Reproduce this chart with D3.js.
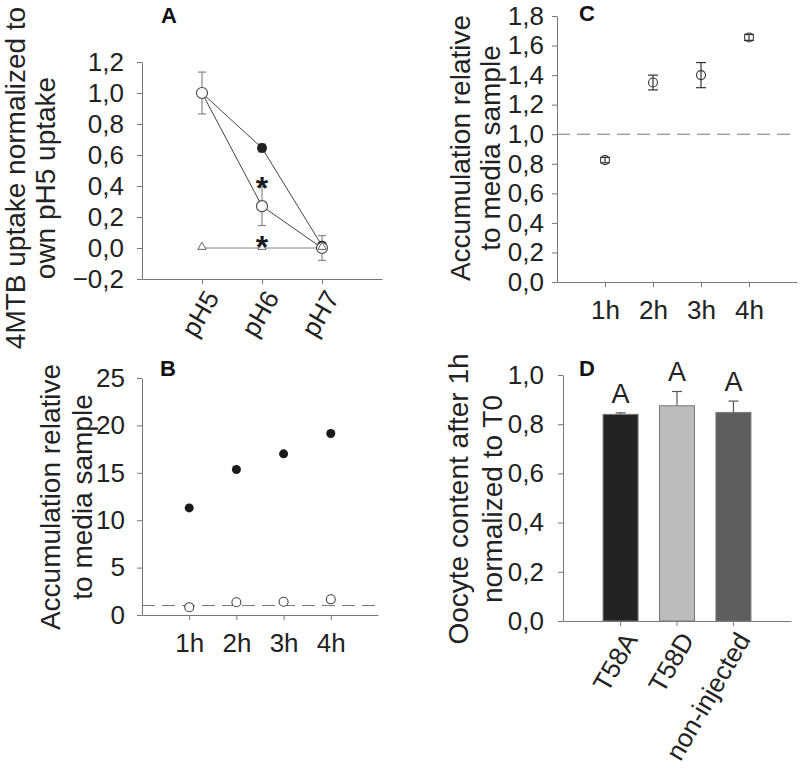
<!DOCTYPE html>
<html><head><meta charset="utf-8">
<script src="https://cdn.jsdelivr.net/npm/d3@7"></script>
<style>
body{margin:0;background:#fff;}
svg{font-family:"Liberation Sans",Arial,sans-serif;}
</style></head>
<body><svg id="c" width="800" height="776"></svg>
<script>
// ---------- DATA ----------
const phCats = ["pH5", "pH6", "pH7"];
const aOpen = [1.0, 0.27, 0.0];
const aOpenErr = [0.135, 0.125, 0.08];
const aFilled = [1.0, 0.645, 0.015];
const aFilledErr = [0.0, 0.025, 0.02];
const aTriangle = [0.0, 0.0, 0.0];
const aStars = [{cat: "pH6", v: 0.44}, {cat: "pH6", v: 0.06}];
const aTicks = [-0.2, 0, 0.2, 0.4, 0.6, 0.8, 1.0, 1.2];

const hours = ["1h", "2h", "3h", "4h"];
const bFilled = [11.3, 15.35, 17.0, 19.15];
const bFilledErr = [0.15, 0.15, 0.15, 0.15];
const openAcc = [0.825, 1.35, 1.40, 1.655];
const openAccErr = [0.018, 0.05, 0.085, 0.02];
const bTicks = [0, 5, 10, 15, 20, 25];
const cTicks = [0, 0.2, 0.4, 0.6, 0.8, 1.0, 1.2, 1.4, 1.6, 1.8];
const refLine = 1.0;

const dCats = ["T58A", "T58D", "non-injected"];
const dValues = [0.84, 0.875, 0.848];
const dErr = [0.006, 0.058, 0.046];
const dLetters = ["A", "A", "A"];
const dColors = ["#232323", "#bcbcbc", "#5e5e5e"];
const dTicks = [0, 0.2, 0.4, 0.6, 0.8, 1.0];

// ---------- HELPERS ----------
const svg = d3.select("#c");
const fmt = d => d3.format(".1f")(d).replace(".", ",");
const AX = "#777", TXT = "#222", FONT = "26px", TITLE = "28px";

function styleAxis(g){
  g.select(".domain").attr("stroke", AX);
  g.selectAll(".tick line").attr("stroke", AX);
  g.selectAll(".tick text").attr("fill", TXT).style("font-size", FONT);
}
function yTitle(lines, xs, cy){
  lines.forEach((t,i)=>{
    svg.append("text").attr("transform",`translate(${xs[i]},${cy}) rotate(-90)`)
      .attr("text-anchor","middle").attr("fill",TXT).style("font-size",TITLE).text(t);
  });
}
function panelLetter(t,x,y){
  svg.append("text").attr("x",x).attr("y",y).attr("fill","#111")
    .style("font-size","22px").style("font-weight","bold").text(t);
}
function errBar(g, x, y0, y1, cap, color){
  g.append("line").attr("x1",x).attr("x2",x).attr("y1",y0).attr("y2",y1).attr("stroke",color).attr("stroke-width",1.2);
  [y0,y1].forEach(yy=>g.append("line").attr("x1",x-cap).attr("x2",x+cap).attr("y1",yy).attr("y2",yy).attr("stroke",color).attr("stroke-width",1.2));
}

// ---------- PANEL A ----------
{
  const x = d3.scalePoint().domain(phCats).range([142,382]).padding(1);
  const y = d3.scaleLinear().domain([-0.2,1.2]).range([279,62]);
  const g = svg.append("g");
  g.append("g").attr("transform","translate(0,279)")
    .call(d3.axisBottom(x).tickSize(5).tickSizeOuter(0).tickFormat(""))
    .call(styleAxis);
  phCats.forEach(c=>{
    svg.append("text").attr("transform",`translate(${x(c)+10},${279+14}) rotate(-60)`)
      .attr("text-anchor","end").attr("dy","0.35em").attr("fill",TXT).style("font-size",FONT).text(c);
  });
  g.append("g").attr("transform","translate(142,0)")
    .call(d3.axisLeft(y).tickValues(aTicks).tickFormat(fmt).tickSize(5).tickPadding(13).tickSizeOuter(0))
    .call(styleAxis);
  const line = d3.line().x((d,i)=>x(phCats[i])).y(d=>y(d));
  g.append("path").datum(aTriangle).attr("d",line).attr("fill","none").attr("stroke","#888").attr("stroke-width",1);
  g.append("path").datum(aFilled).attr("d",line).attr("fill","none").attr("stroke","#444").attr("stroke-width",1);
  g.append("path").datum(aOpen).attr("d",line).attr("fill","none").attr("stroke","#444").attr("stroke-width",1);
  aOpen.forEach((v,i)=>errBar(g,x(phCats[i]),y(v-aOpenErr[i]),y(v+aOpenErr[i]),4,"#888"));
  aFilled.forEach((v,i)=>{ if(aFilledErr[i]>0) errBar(g,x(phCats[i]),y(v-aFilledErr[i]),y(v+aFilledErr[i]),4,"#666"); });
  aFilled.forEach((v,i)=>g.append("circle").attr("cx",x(phCats[i])).attr("cy",y(v)).attr("r",5).attr("fill","#222"));
  aOpen.forEach((v,i)=>g.append("circle").attr("cx",x(phCats[i])).attr("cy",y(v)).attr("r",5.5).attr("fill","#fff").attr("stroke","#444").attr("stroke-width",1.1));
  const tri = d3.symbol().type(d3.symbolTriangle).size(30);
  aTriangle.forEach((v,i)=>g.append("path").attr("d",tri()).attr("transform",`translate(${x(phCats[i])},${y(v)-1})`).attr("fill","#fff").attr("stroke","#666").attr("stroke-width",1));
  aStars.forEach(s=>g.append("text").attr("x",x(s.cat)).attr("y",y(s.v)).attr("dy","0.6em")
     .attr("text-anchor","middle").attr("fill","#1a1a1a").style("font-size","32px").style("font-weight","bold").text("*"));
  yTitle(["4MTB uptake normalized to","own pH5 uptake"],[25,55],178);
  panelLetter("A",161,23);
}

// ---------- PANEL B ----------
{
  const x = d3.scalePoint().domain(hours).range([142,378]).padding(1);
  const y = d3.scaleLinear().domain([0,25]).range([615,378]);
  const g = svg.append("g");
  g.append("g").attr("transform","translate(0,615)")
    .call(d3.axisBottom(x).tickSize(5).tickPadding(14).tickSizeOuter(0)).call(styleAxis);
  g.append("g").attr("transform","translate(142,0)")
    .call(d3.axisLeft(y).tickValues(bTicks).tickSize(5).tickPadding(12).tickSizeOuter(0)).call(styleAxis);
  g.append("line").attr("x1",142).attr("x2",378).attr("y1",y(refLine)).attr("y2",y(refLine))
    .attr("stroke","#777").attr("stroke-dasharray","13,7").attr("stroke-width",1);
  bFilled.forEach((v,i)=>errBar(g,x(hours[i]),y(v-bFilledErr[i]),y(v+bFilledErr[i]),3,"#333"));
  bFilled.forEach((v,i)=>g.append("circle").attr("cx",x(hours[i])).attr("cy",y(v)).attr("r",4.5).attr("fill","#1a1a1a"));
  openAcc.forEach((v,i)=>g.append("circle").attr("cx",x(hours[i])).attr("cy",y(v)).attr("r",4.5).attr("fill","#fff").attr("stroke","#444").attr("stroke-width",1.1));
  yTitle(["Accumulation relative","to media sample"],[60,92],497);
  panelLetter("B",160,376);
}

// ---------- PANEL C ----------
{
  const x = d3.scalePoint().domain(hours).range([557,797]).padding(1);
  const y = d3.scaleLinear().domain([0,1.8]).range([282,16]);
  const g = svg.append("g");
  g.append("g").attr("transform","translate(0,282)")
    .call(d3.axisBottom(x).tickSize(5).tickPadding(14).tickSizeOuter(0)).call(styleAxis);
  g.append("g").attr("transform","translate(557,0)")
    .call(d3.axisLeft(y).tickValues(cTicks).tickFormat(fmt).tickSize(5).tickPadding(8).tickSizeOuter(0)).call(styleAxis);
  g.append("line").attr("x1",557).attr("x2",797).attr("y1",y(refLine)).attr("y2",y(refLine))
    .attr("stroke","#777").attr("stroke-dasharray","13,7").attr("stroke-width",1);
  openAcc.forEach((v,i)=>errBar(g,x(hours[i]),y(v-openAccErr[i]),y(v+openAccErr[i]),5,"#333"));
  openAcc.forEach((v,i)=>g.append("circle").attr("cx",x(hours[i])).attr("cy",y(v)).attr("r",4.5).attr("fill","none").attr("stroke","#333").attr("stroke-width",1.1));
  yTitle(["Accumulation relative","to media sample"],[470,500],148);
  panelLetter("C",579,21);
}

// ---------- PANEL D ----------
{
  const x = d3.scaleBand().domain(dCats).range([563,791]).paddingInner(0.38).paddingOuter(0.71);
  const y = d3.scaleLinear().domain([0,1]).range([621,375]);
  const g = svg.append("g");
  dValues.forEach((v,i)=>{
    const cx = x(dCats[i])+x.bandwidth()/2;
    g.append("line").attr("x1",cx).attr("x2",cx).attr("y1",y(v)).attr("y2",y(v+dErr[i])).attr("stroke","#555").attr("stroke-width",1.2);
    g.append("line").attr("x1",cx-5).attr("x2",cx+5).attr("y1",y(v+dErr[i])).attr("y2",y(v+dErr[i])).attr("stroke","#555").attr("stroke-width",1.2);
  });
  g.selectAll("rect.bar").data(dValues).join("rect")
    .attr("x",(d,i)=>x(dCats[i])).attr("width",x.bandwidth())
    .attr("y",d=>y(d)).attr("height",d=>y(0)-y(d))
    .attr("fill",(d,i)=>dColors[i]).attr("stroke","#777").attr("stroke-width",1);
  dLetters.forEach((t,i)=>g.append("text").attr("x",x(dCats[i])+x.bandwidth()/2).attr("y",y(dValues[i]+dErr[i])-10)
     .attr("text-anchor","middle").attr("fill",TXT).style("font-size","27px").text(t));
  g.append("g").attr("transform","translate(0,621)")
    .call(d3.axisBottom(x).tickSize(5).tickSizeOuter(0).tickFormat("")).call(styleAxis);
  dCats.forEach(c=>{
    svg.append("text").attr("transform",`translate(${x(c)+x.bandwidth()/2+10},${621+14}) rotate(-60)`)
      .attr("text-anchor","end").attr("dy","0.35em").attr("fill",TXT).style("font-size",FONT).text(c);
  });
  g.append("g").attr("transform","translate(563,0)")
    .call(d3.axisLeft(y).tickValues(dTicks).tickFormat(fmt).tickSize(5).tickPadding(14).tickSizeOuter(0)).call(styleAxis);
  yTitle(["Oocyte content after 1h","normalized to T0"],[468,502],499);
  panelLetter("D",579,376);
}
</script></body></html>
